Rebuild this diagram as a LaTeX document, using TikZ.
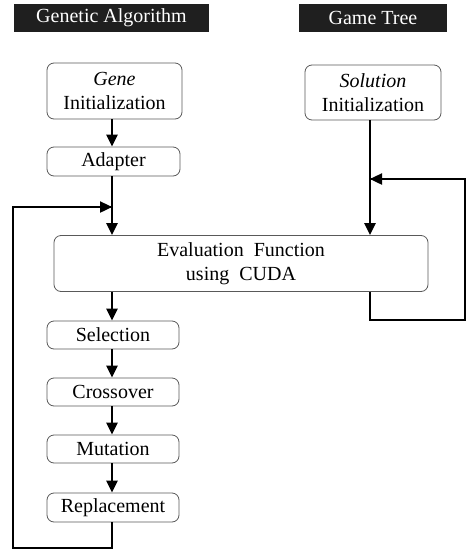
\documentclass[tikz,border=0pt]{standalone}
\usepackage{fontspec}
\setmainfont{Liberation Serif}
\usetikzlibrary{arrows.meta,positioning,calc}
\begin{document}
\begin{tikzpicture}[x=1pt,y=-1pt,
  box/.style={draw=black!65, line width=0.8pt, rounded corners=7pt, align=center,
    inner sep=0pt, font=\fontsize{20}{23.5}\selectfont},
  banner/.style={fill=black!88, text=white, inner sep=0pt, font=\fontsize{20}{23}\selectfont},
  flow/.style={line width=2.4pt, -{Triangle[length=12pt,width=11pt]}},
  plain/.style={line width=2.4pt, line join=miter}]
\useasboundingbox (0,0) rectangle (468,555);
\coordinate (colL) at (112,0);
\coordinate (colR) at (370,0);

\node[banner, minimum width=195pt, minimum height=28pt] (ga) at (111.5,18) {Genetic Algorithm};
\node[banner, minimum width=148pt, minimum height=28pt] (gt) at (373,18) {Game Tree};

\node[box, minimum width=135pt, minimum height=56pt] (gene) at (114.5,91) {\textit{Gene}\\Initialization};
\node[box, minimum width=136pt, minimum height=55pt] (sol) at (373,92.5) {\textit{Solution}\\Initialization};
\node[box, minimum width=133pt, minimum height=29pt] (adapt) at (113.5,161.5) {Adapter};
\node[box, minimum width=374pt, minimum height=56pt] (eval) at (241,263.5) {Evaluation\ \ Function\\using\ \ CUDA};
\node[box, minimum width=132pt, minimum height=28pt] (sel) at (113,335) {Selection};
\node[box, minimum width=132pt, minimum height=28pt] (cross) at (113,392) {Crossover};
\node[box, minimum width=132pt, minimum height=28pt] (mut) at (113,449) {Mutation};
\node[box, minimum width=132pt, minimum height=29pt] (rep) at (113,507.5) {Replacement};

\draw[flow] (gene.south -| colL) -- (adapt.north -| colL);
\draw[flow] (adapt.south -| colL) -- (eval.north -| colL);
\draw[flow] (sol.south -| colR) -- (eval.north -| colR);
\draw[flow] (eval.south -| colL) -- (sel.north -| colL);
\draw[flow] (sel.south -| colL) -- (cross.north -| colL);
\draw[flow] (cross.south -| colL) -- (mut.north -| colL);
\draw[flow] (mut.south -| colL) -- (rep.north -| colL);

\coordinate (lb) at (112,548);
\coordinate (ll) at (13,548);
\coordinate (lt) at (13,207);
\coordinate (lin) at (112,207);
\draw[plain] (rep.south -| colL) -- (lb) -- (ll) -- (lt) -- ($(lin)+(-1,0)$);
\draw[flow] (lt) -- (lin);

\coordinate (rb) at (370,320);
\coordinate (rr) at (465,320);
\coordinate (rt) at (465,179);
\coordinate (rin) at (370,179);
\draw[plain] (eval.south -| colR) -- (rb) -- (rr) -- (rt) -- ($(rin)+(1,0)$);
\draw[flow] (rt) -- (rin);
\end{tikzpicture}
\end{document}
